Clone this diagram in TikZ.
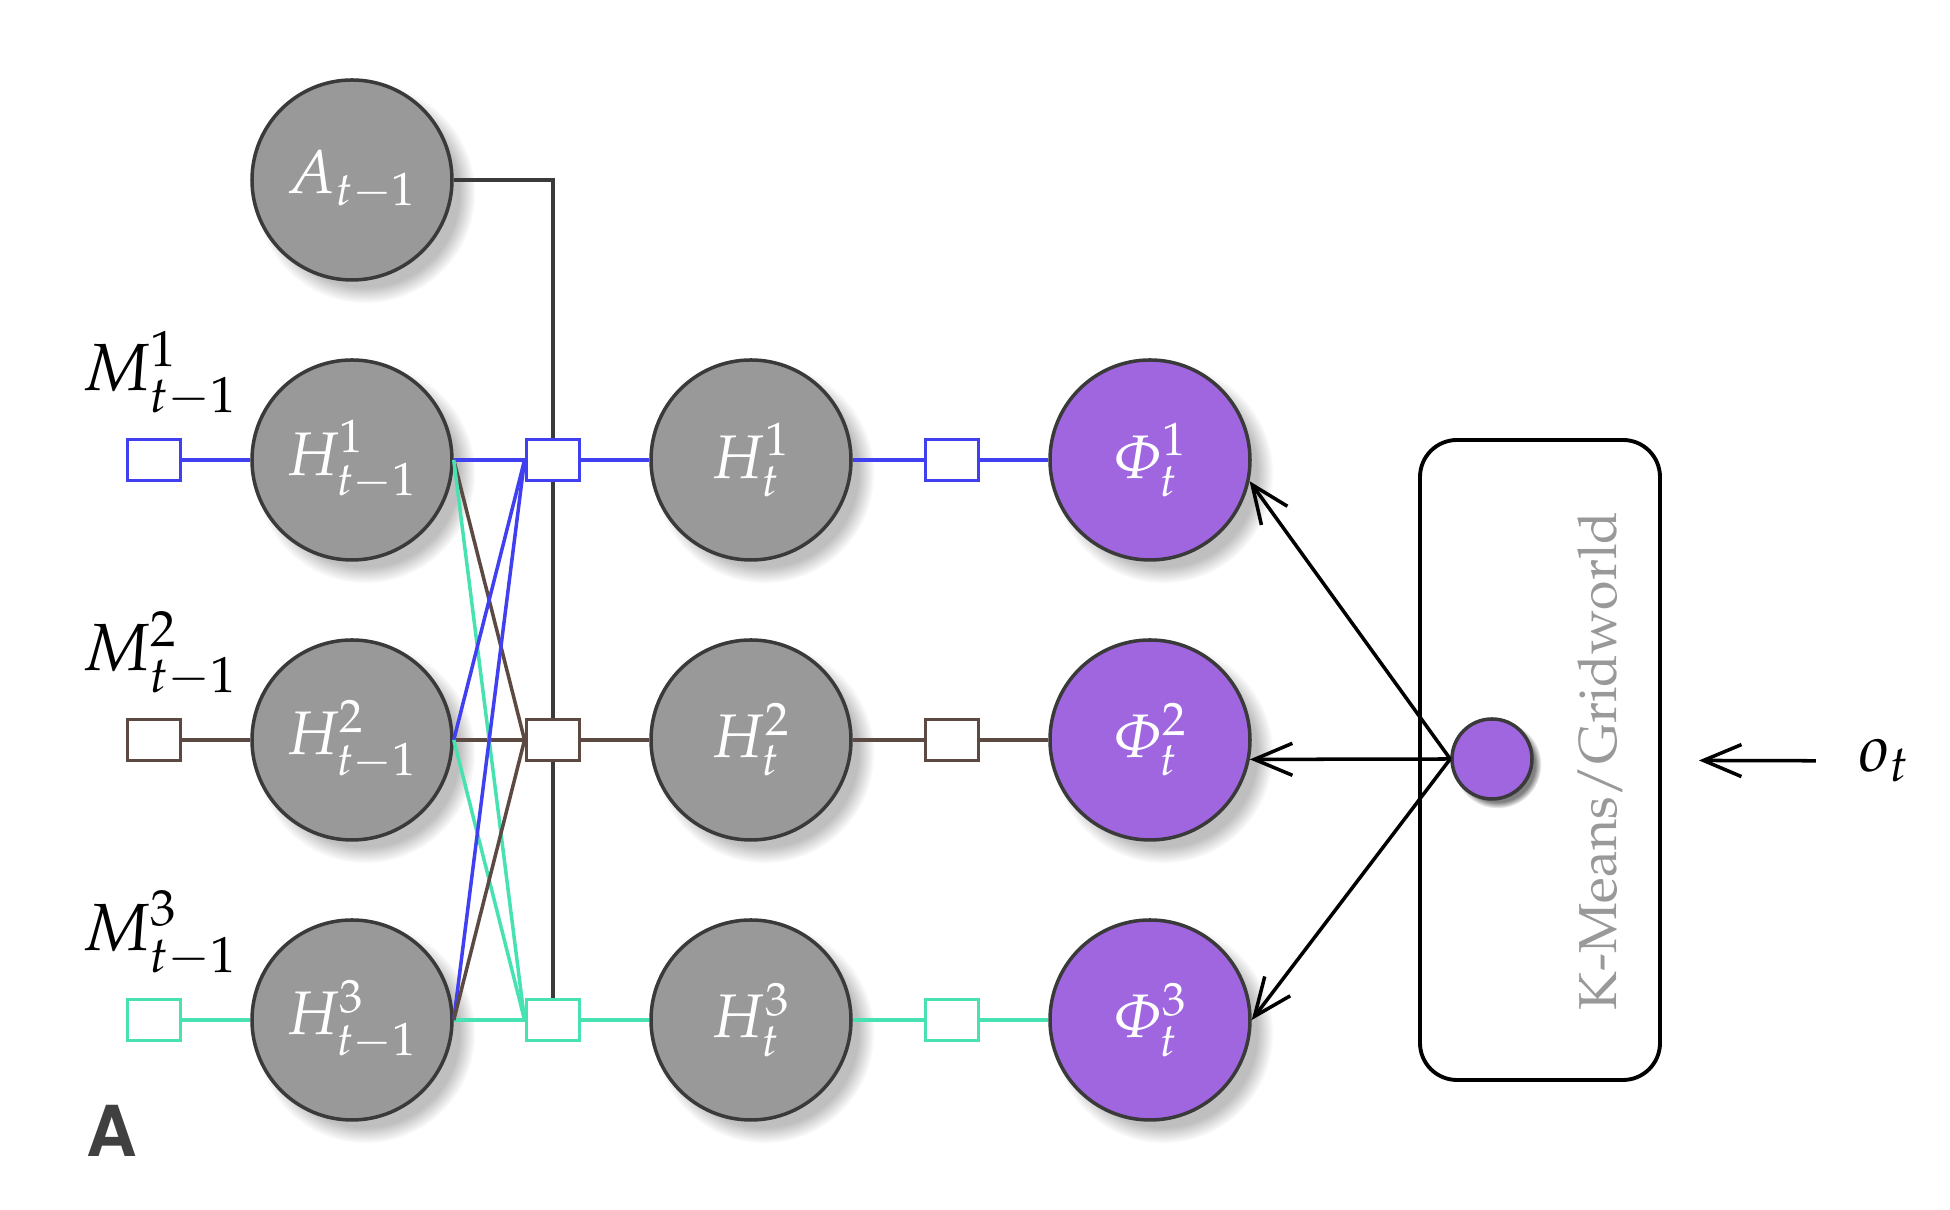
\documentclass[tikz,border=0pt]{standalone}
\usepackage[T1]{fontenc}
\usepackage[slantedGreek]{mathpazo}
\usepackage{amsmath}
\usepackage{tikz}
\usetikzlibrary{arrows.meta, shadows, positioning}

\definecolor{hgray}{RGB}{153,153,153}
\definecolor{phiviolet}{RGB}{160,102,224}
\definecolor{rowblue}{RGB}{64,64,240}
\definecolor{rowbrown}{RGB}{92,74,66}
\definecolor{rowteal}{RGB}{72,226,178}
\definecolor{edgegray}{RGB}{58,58,58}

\begin{document}
\begin{tikzpicture}[
    state/.style={circle, draw=edgegray, line width=1pt, minimum size=2cm, inner sep=0pt,
        text=white, font=\fontsize{17.5}{20}\selectfont,
        circular drop shadow={shadow xshift=0.12cm, shadow yshift=-0.12cm, opacity=0.5}},
    hidden/.style={state, fill=hgray},
    feature/.style={state, fill=phiviolet},
    factor/.style={rectangle, fill=white, line width=1.1pt, minimum width=0.53cm,
        minimum height=0.41cm, inner sep=0pt},
    mlabel/.style={font=\fontsize{19}{22}\selectfont},
    link/.style={line width=1pt},
    arr/.style={-{Straight Barb[length=3.8mm, width=3.2mm]}, line width=1pt}
]
    \useasboundingbox (0,0) rectangle (19.5,12.1);

    % Previous action
    \node[hidden] (A) at (3.52,10.30) {$A_{t-1}$};

    % One row per module
    \foreach \i/\y/\col in {1/7.50/rowblue, 2/4.70/rowbrown, 3/1.90/rowteal} {
        \node[hidden] (Hp\i) at (3.52,\y) {$H^{\i}_{t-1}$};
        \node[hidden] (H\i) at (7.51,\y) {$H^{\i}_{t}$};
        \node[feature] (Phi\i) at (11.50,\y) {$\Phi^{\i}_{t}$};
        \node[factor, draw=\col] (sql\i) at (1.54,\y) {};
        \node[factor, draw=\col] (sqm\i) at (5.53,\y) {};
        \node[factor, draw=\col] (sqr\i) at (9.52,\y) {};
        \node[mlabel, above=0.08cm of sql\i, xshift=0.06cm] (M\i) {$M^{\i}_{t-1}$};
        \draw[link, \col] (sql\i) -- (Hp\i) (Hp\i) -- (sqm\i) -- (H\i) -- (sqr\i) -- (Phi\i);
    }

    % Crossing links
    \foreach \i/\j/\col in {1/2/rowbrown, 1/3/rowteal, 2/1/rowblue, 2/3/rowteal, 3/1/rowblue, 3/2/rowbrown}
        \draw[link, \col] (Hp\i.east) -- (sqm\j.west);

    % Action line
    \draw[link, edgegray] (A.east) -| (sqm1.north);
    \draw[link, edgegray] (sqm1.south) -- (sqm2.north) (sqm2.south) -- (sqm3.north);

    % Clustering
    \node[draw, line width=1.1pt, rounded corners=0.37cm, minimum width=2.4cm, minimum height=6.4cm] (box) at (15.40,4.50) {};
    \node[rotate=90, text=hgray, font=\fontsize{15.2}{18}\selectfont] (kmeans) at (16.00,4.49) {K-Means/Gridworld};
    \node[circle, draw=edgegray, fill=phiviolet, line width=1pt, minimum size=0.8cm, inner sep=0pt, circular drop shadow] (dot) at (14.92,4.51) {};
    \draw[arr] (dot.west) -- (Phi1.-12);
    \draw[arr] (dot.west) -- (Phi2.-11);
    \draw[arr] (dot.west) -- (Phi3.east);

    \node[mlabel] (ot) at (18.84,4.49) {$o_t$};
    \draw[arr, shorten <=0.3cm, shorten >=0.37cm] (ot) -- (box);

    \node[font=\usefont{T1}{phv}{b}{n}\fontsize{20}{22}\selectfont, text=darkgray] (panel) at (1.12,0.78) {A};
\end{tikzpicture}
\end{document}
